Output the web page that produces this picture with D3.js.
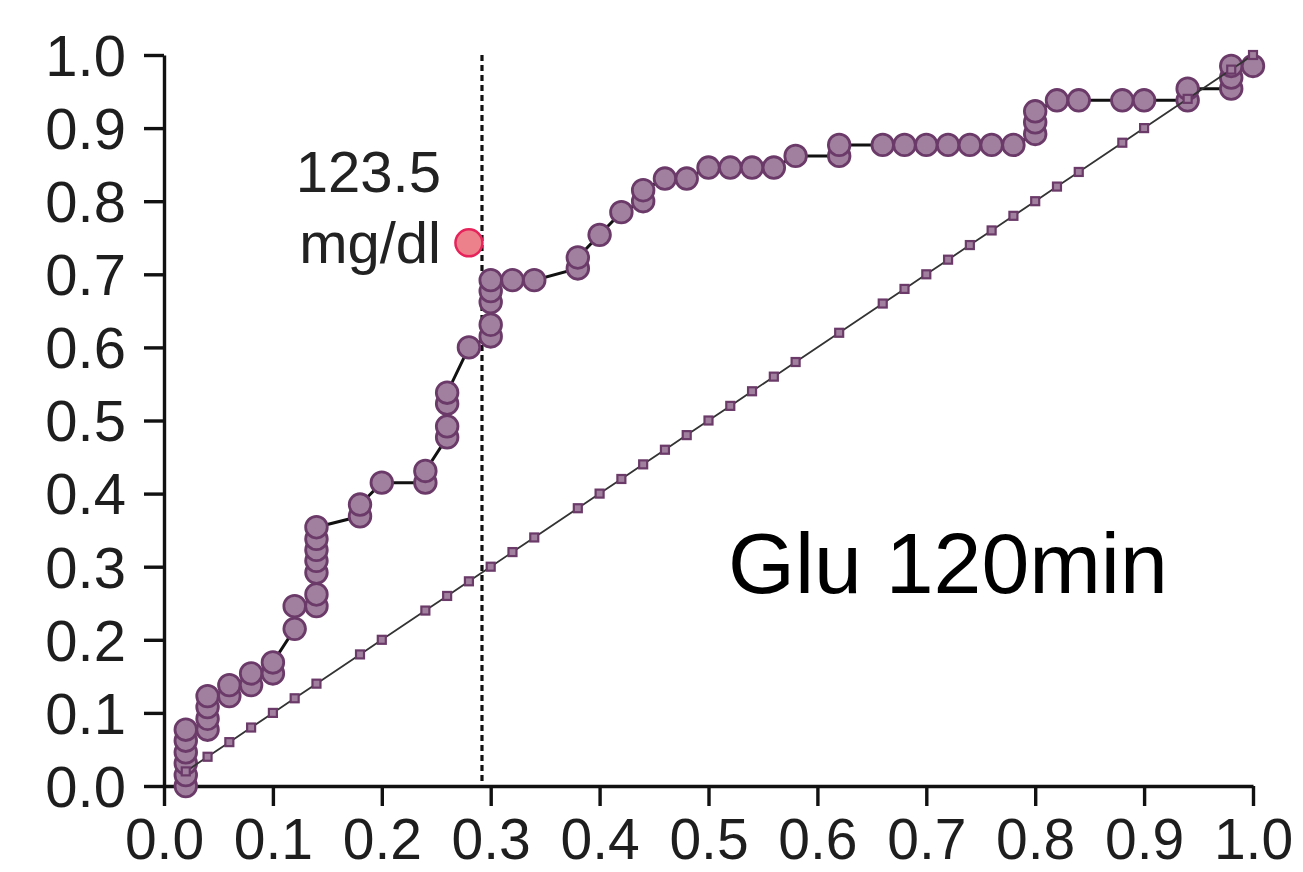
<!DOCTYPE html>
<html>
<head>
<meta charset="utf-8">
<script src="https://cdn.jsdelivr.net/npm/d3@7"></script>
<style>
  html, body { margin: 0; padding: 0; background: #fff; }
  svg { display: block; }
</style>
</head>
<body>
<svg id="chart" width="1303" height="872"></svg>
<script>
// ---- data ----
const rocFPR = [
  0.02, 0.02, 0.02, 0.02, 0.02, 0.02,
  0.04, 0.04, 0.04, 0.04,
  0.06, 0.06,
  0.08, 0.08,
  0.10, 0.10,
  0.12, 0.12,
  0.14, 0.14, 0.14, 0.14, 0.14, 0.14, 0.14,
  0.18, 0.18,
  0.20,
  0.24, 0.24,
  0.26, 0.26, 0.26, 0.26,
  0.28,
  0.30, 0.30, 0.30, 0.30, 0.30,
  0.32, 0.34,
  0.38, 0.38,
  0.40, 0.42,
  0.44, 0.44,
  0.46, 0.48,
  0.50, 0.52, 0.54, 0.56,
  0.58,
  0.62, 0.62,
  0.66, 0.68, 0.70, 0.72, 0.74, 0.76, 0.78,
  0.80, 0.80, 0.80,
  0.82, 0.84, 0.88, 0.90,
  0.94, 0.94,
  0.98, 0.98, 0.98,
  1.00
];
const rocTPR = [
  0.000, 0.015, 0.031, 0.046, 0.062, 0.077,
  0.077, 0.092, 0.108, 0.123,
  0.123, 0.138,
  0.138, 0.154,
  0.154, 0.169,
  0.215, 0.246,
  0.246, 0.262, 0.292, 0.308, 0.323, 0.338, 0.354,
  0.369, 0.385,
  0.415,
  0.415, 0.431,
  0.477, 0.492, 0.523, 0.538,
  0.600,
  0.615, 0.631, 0.662, 0.677, 0.692,
  0.692, 0.692,
  0.708, 0.723,
  0.754, 0.785,
  0.800, 0.815,
  0.831, 0.831,
  0.846, 0.846, 0.846, 0.846,
  0.862,
  0.862, 0.877,
  0.877, 0.877, 0.877, 0.877, 0.877, 0.877, 0.877,
  0.892, 0.908, 0.923,
  0.938, 0.938, 0.938, 0.938,
  0.938, 0.954,
  0.954, 0.969, 0.985,
  0.985
];
// chance (reference) line: markers at each distinct false-positive rate, y = x
const refX = [0.02, 0.04, 0.06, 0.08, 0.10, 0.12, 0.14, 0.18, 0.20, 0.24, 0.26, 0.28, 0.30,
  0.32, 0.34, 0.38, 0.40, 0.42, 0.44, 0.46, 0.48, 0.50, 0.52, 0.54, 0.56, 0.58, 0.62,
  0.66, 0.68, 0.70, 0.72, 0.74, 0.76, 0.78, 0.80, 0.82, 0.84, 0.88, 0.90, 0.94, 0.98, 1.00];
const cutoffPoint = { x: 0.280, y: 0.743 };
const cutoffLineX = 0.292;
const cutoffLabel = ["123.5", "mg/dl"];
const panelTitle = "Glu 120min";
const xTicks = [0, 0.1, 0.2, 0.3, 0.4, 0.5, 0.6, 0.7, 0.8, 0.9, 1.0];
const yTicks = [0, 0.1, 0.2, 0.3, 0.4, 0.5, 0.6, 0.7, 0.8, 0.9, 1.0];

// ---- layout ----
const FONT = "'Liberation Sans', Arial, Helvetica, sans-serif";
const svg = d3.select("#chart");
const x = d3.scaleLinear().domain([0, 1]).range([164, 1253]);
const y = d3.scaleLinear().domain([0, 1]).range([786, 55]);

// axes
const xAxis = d3.axisBottom(x).tickValues(xTicks).tickFormat(d3.format(".1f"))
  .tickSizeInner(20).tickSizeOuter(0).tickPadding(13);
const yAxis = d3.axisLeft(y).tickValues(yTicks).tickFormat(d3.format(".1f"))
  .tickSizeInner(20).tickSizeOuter(0).tickPadding(18);

const gx = svg.append("g").attr("transform", `translate(0,${y(0)})`).call(xAxis);
const gy = svg.append("g").attr("transform", `translate(${x(0)},0)`).call(yAxis);
[gx, gy].forEach(g => {
  g.select(".domain").attr("stroke", "#111").attr("stroke-width", 3.4);
  g.selectAll(".tick line").attr("stroke", "#111").attr("stroke-width", 3.4);
  g.selectAll(".tick text").attr("font-family", FONT).attr("font-size", 58).attr("fill", "#1e1e1e");
});
gx.selectAll(".tick text").attr("font-size", 57);
gy.selectAll(".tick text").attr("dy", "0.35em");

// cutoff dashed line
svg.append("line")
  .attr("x1", x(cutoffLineX)).attr("x2", x(cutoffLineX))
  .attr("y1", y(1)).attr("y2", y(0))
  .attr("stroke", "#111").attr("stroke-width", 3.2)
  .attr("stroke-dasharray", "6,4");

// ROC line
const rocPts = rocFPR.map((d, i) => [d, rocTPR[i]]);
svg.append("path")
  .datum(rocPts)
  .attr("d", d3.line().x(d => x(d[0])).y(d => y(d[1])))
  .attr("fill", "none").attr("stroke", "#111").attr("stroke-width", 3);

svg.append("g").selectAll("circle").data(rocPts).join("circle")
  .attr("cx", d => x(d[0])).attr("cy", d => y(d[1])).attr("r", 10.8)
  .attr("fill", "#a0809e").attr("stroke", "#6b3a69").attr("stroke-width", 2.8);

// chance line
const refPts = refX.map(d => [d, d]);
svg.append("path")
  .datum(refPts)
  .attr("d", d3.line().x(d => x(d[0])).y(d => y(d[1])))
  .attr("fill", "none").attr("stroke", "#333").attr("stroke-width", 1.8);

svg.append("g").selectAll("rect").data(refPts).join("rect")
  .attr("x", d => x(d[0]) - 4).attr("y", d => y(d[1]) - 4)
  .attr("width", 8).attr("height", 8)
  .attr("fill", "#a0809e").attr("stroke", "#6b3a69").attr("stroke-width", 2.2);

// cutoff point
svg.append("circle")
  .attr("cx", x(cutoffPoint.x)).attr("cy", y(cutoffPoint.y)).attr("r", 13.5)
  .attr("fill", "#ec818b").attr("stroke", "#e6245b").attr("stroke-width", 2.5);

// labels
svg.append("text").attr("x", 441).attr("y", 192)
  .attr("text-anchor", "end").attr("font-family", FONT).attr("font-size", 58)
  .attr("fill", "#222").text(cutoffLabel[0]);
svg.append("text").attr("x", 441).attr("y", 263)
  .attr("text-anchor", "end").attr("font-family", FONT).attr("font-size", 58)
  .attr("fill", "#222").text(cutoffLabel[1]);

svg.append("text").attr("x", 728).attr("y", 593)
  .attr("font-family", FONT).attr("font-size", 86)
  .attr("fill", "#000").text(panelTitle);
</script>
</body>
</html>
